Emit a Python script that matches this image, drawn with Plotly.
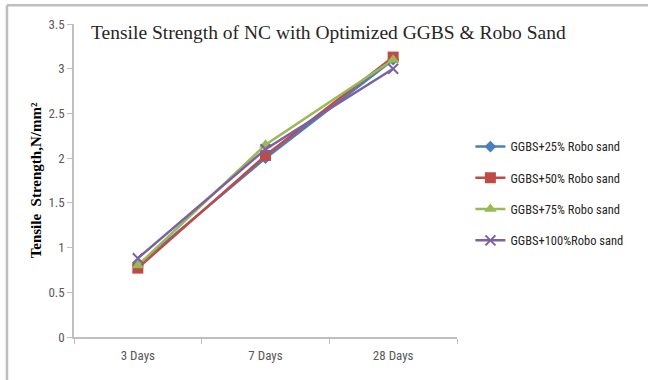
import plotly.graph_objects as go

categories = ["3 Days", "7 Days", "28 Days"]
series_names = ["GGBS+25% Robo sand", "GGBS+50% Robo sand", "GGBS+75% Robo sand", "GGBS+100%Robo sand"]
ggbs_25 = [0.80, 2.00, 3.10]
ggbs_50 = [0.77, 2.03, 3.13]
ggbs_75 = [0.80, 2.15, 3.10]
ggbs_100 = [0.88, 2.10, 3.00]
y_ticks = [0, 0.5, 1, 1.5, 2, 2.5, 3, 3.5]
y_tick_labels = ["0", "0.5", "1", "1.5", "2", "2.5", "3", "3.5"]

values = [ggbs_25, ggbs_50, ggbs_75, ggbs_100]
colors = ["#4A7EBB", "#BE4B48", "#98B954", "#7D60A0"]
symbols = ["diamond", "square", "triangle-up", "x-thin"]
sizes = [9, 11, 11, 10]

fig = go.Figure()
for i, (name, vals) in enumerate(zip(series_names, values)):
    fig.add_trace(go.Scatter(
        x=categories, y=vals, name=name, mode="lines+markers",
        line=dict(color=colors[i], width=2.5),
        marker=dict(symbol=symbols[i], size=sizes[i], color=colors[i],
                    line=dict(color=colors[i], width=2 if symbols[i] == "x-thin" else 0)),
        legendgroup=f"g{i}",
    ))

narrow = "Liberation Sans Narrow, Roboto Condensed, Arial Narrow, sans-serif"
tick_font = dict(family=narrow, size=13, color="#595959")

fig.update_layout(
    width=648, height=380,
    margin=dict(l=74, r=191, t=24, b=43),
    paper_bgcolor="white", plot_bgcolor="white",
    showlegend=True,
    legend=dict(x=1.035, y=0.655, xanchor="left", yanchor="top",
                font=dict(family=narrow, size=12.5, color="#262626"),
                tracegroupgap=12, bgcolor="rgba(0,0,0,0)"),
    xaxis=dict(type="category", range=[-0.5, 2.5], showgrid=False,
               showline=True, linecolor="#BFBFBF", linewidth=1.5,
               ticks="outside", tickson="boundaries", ticklen=5, tickcolor="#BFBFBF",
               tickfont=tick_font, zeroline=False, ticklabelstandoff=6),
    yaxis=dict(range=[0, 3.5], tickvals=y_ticks, ticktext=y_tick_labels, showgrid=False,
               showline=True, linecolor="#BFBFBF", linewidth=1.5,
               ticks="outside", ticklen=5, tickcolor="#BFBFBF",
               tickfont=tick_font, zeroline=False,
               title=dict(text="<b>Tensile  Strength,N/mm²</b>",
                          font=dict(family="Liberation Serif, Times New Roman, serif", size=15, color="black"),
                          standoff=3)),
    annotations=[dict(text="Tensile Strength of NC with Optimized GGBS & Robo Sand",
                      xref="paper", yref="paper", x=0.04, y=1.0, xanchor="left", yanchor="middle",
                      yshift=-8, showarrow=False,
                      font=dict(family="Liberation Serif, Times New Roman, serif", size=19.5, color="#262626"))],
    shapes=[
        dict(type="line", xref="paper", yref="paper", x0=-0.175, x1=1.6, y0=1.06, y1=1.06,
             line=dict(color="#BFBFBF", width=2.5)),
        dict(type="line", xref="paper", yref="paper", x0=-0.175, x1=-0.175, y0=-0.2, y1=1.06,
             line=dict(color="#BFBFBF", width=2.5)),
    ],
)

fig.write_html("out.html")
